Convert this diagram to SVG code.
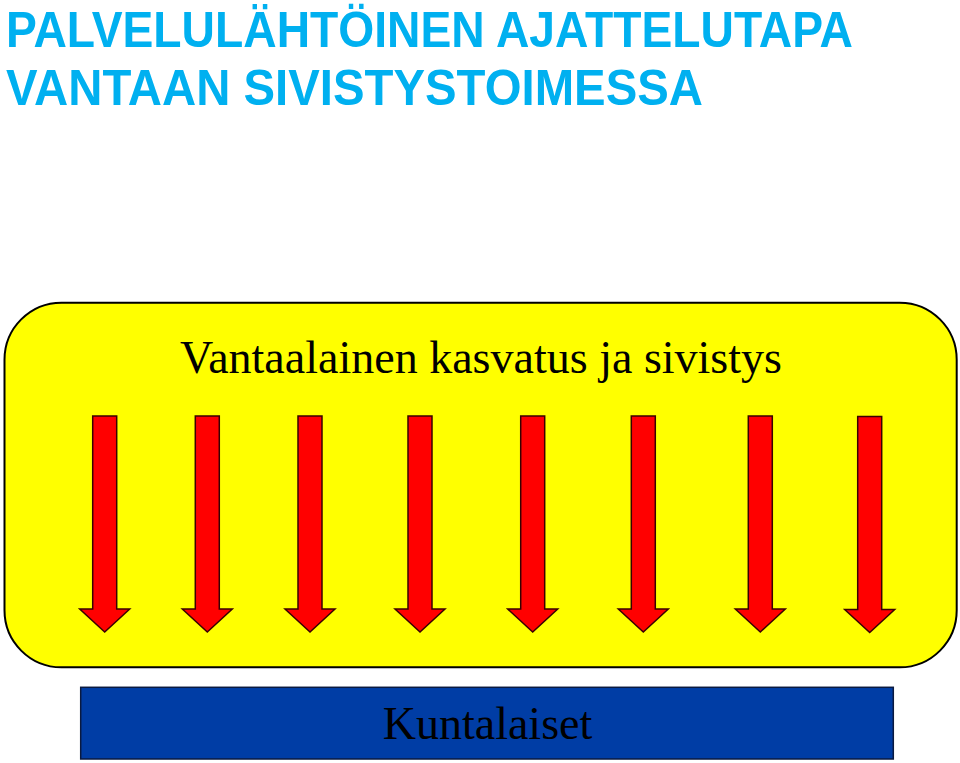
<svg xmlns="http://www.w3.org/2000/svg" width="960" height="763" viewBox="0 0 960 763">
<defs>
<style>
.title{font-family:"Liberation Sans",Arial,sans-serif;font-weight:bold;font-size:50px;fill:#00B0F0}
.serif{font-family:"Liberation Serif","Times New Roman",serif;font-size:46px;fill:#000}
.arrow{fill:#FF0000;stroke:#3a0000;stroke-width:1.5;stroke-linejoin:miter}
</style>
<path id="arr" class="arrow" d="M-12,0 H12 V193 H25 L0,216 L-25,193 H-12 Z"/>
</defs>
<rect width="960" height="763" fill="#fff"/>
<g id="title">
<text class="title" x="6" y="47" textLength="847" lengthAdjust="spacingAndGlyphs">PALVELULÄHTÖINEN AJATTELUTAPA</text>
<text class="title" x="6" y="104.5" textLength="697" lengthAdjust="spacingAndGlyphs">VANTAAN SIVISTYSTOIMESSA</text>
</g>
<g id="node-kasvatus">
<rect x="4.5" y="302.7" width="952.2" height="364.6" rx="57" ry="57" fill="#FFFF00" stroke="#000" stroke-width="2"/>
<text class="serif" x="481" y="373" text-anchor="middle" textLength="602" lengthAdjust="spacingAndGlyphs">Vantaalainen kasvatus ja sivistys</text>
</g>
<g id="connectors">
<use href="#arr" x="104.7" y="416"/>
<use href="#arr" x="207.3" y="416"/>
<use href="#arr" x="310" y="416"/>
<use href="#arr" x="420" y="416"/>
<use href="#arr" x="532.7" y="416"/>
<use href="#arr" x="643.3" y="416"/>
<use href="#arr" x="760.3" y="416"/>
<use href="#arr" x="869.7" y="416.5"/>
</g>
<g id="node-kuntalaiset">
<rect x="80.7" y="687.3" width="812.6" height="71.7" fill="#003DA5" stroke="#0a1a40" stroke-width="1.5"/>
<text class="serif" x="487.5" y="739" text-anchor="middle" fill="#000">Kuntalaiset</text>
</g>
</svg>
